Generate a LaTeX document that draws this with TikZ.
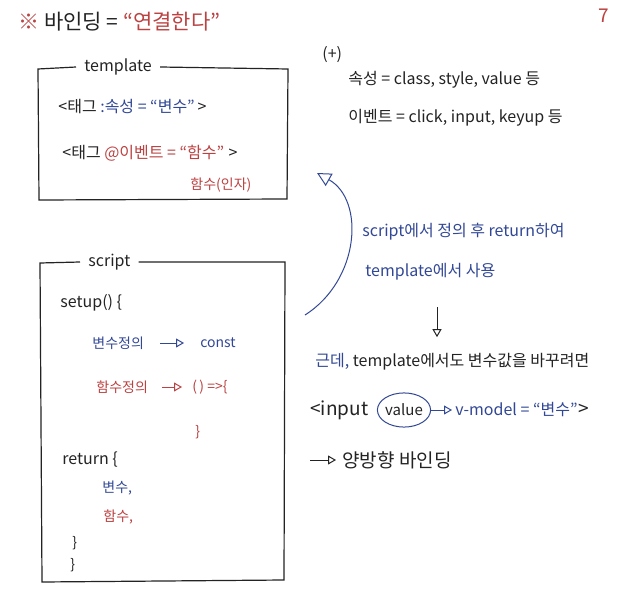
\documentclass[tikz,border=0pt]{standalone}
\usepackage{fontspec}
\newfontfamily\hand{Noto Sans CJK KR}
\usetikzlibrary{arrows.meta}
\usetikzlibrary{shapes.geometric}
\definecolor{penred}{RGB}{188,66,66}
\definecolor{penblue}{RGB}{50,72,150}
\definecolor{penblack}{RGB}{35,35,35}
\tikzset{
  pen/.style={draw=penblack, line width=0.6pt},
  txt/.style={anchor=west, inner sep=0pt, text=penblack, font=\hand\fontsize{8}{9}\selectfont},
  small/.style={font=\hand\fontsize{7}{8}\selectfont},
  big/.style={font=\hand\fontsize{9.5}{11}\selectfont},
  boxtitle/.style={inner xsep=4pt},
  hint/.style={-{Triangle[open,length=4pt,width=4.5pt]}, line width=0.5pt, shorten >=8pt, shorten <=8pt},
}
\begin{document}
\begin{tikzpicture}[x=0.5pt, y=-0.5pt]
            \useasboundingbox[fill=white] (0,0) rectangle (626,609);
            % title line
            \node[txt, font=\hand\fontsize{10.5}{12}\selectfont] (title) at (18,22) {\textcolor{penred}{※}\ 바인딩 = \textcolor{penred}{“연결한다”}};
            \node[txt, big, text=penred] (page) at (598,16) {7};
            % template box
            \node[txt, boxtitle] (tplname) at (76,67) {template};
            \draw[pen] (tplname.west) -- (38,69) -- (39,200) -- (287,199) -- (288,69) -- (tplname.east);
            \node[txt] (tag1) at (58,107) {<태그 \textcolor{penblue}{:속성 = “변수”}\,>};
            \node[txt] (tag2) at (62,153) {<태그 \textcolor{penred}{@이벤트 = “함수”}\;>};
            \node[txt, small, text=penred] (fnarg) at (190,185) {함수(인자)};
            % notes on the right
            \node[txt] (plus) at (322,55) {(+)};
            \node[txt] (attrs) at (348,80) {속성 = class, style, value 등};
            \node[txt] (events) at (348,118) {이벤트 = click, input, keyup 등};
            % script box
            \node[txt, boxtitle] (scrname) at (80,262) {script};
            \draw[pen] (scrname.west) -- (40,263) -- (42,582) -- (284,580) -- (285,262) -- (scrname.east);
            \node[txt] (setup) at (60,303) {setup() \{};
            \node[txt, small, text=penblue] (vardef) at (92,343) {변수정의};
            \node[txt, small, text=penblue] (const) at (200,343) {const};
            \draw[hint, penblue] (vardef) -- (const);
            \node[txt, small, text=penred] (fndef) at (96,387) {함수정의};
            \node[txt, small, text=penred] (arrowfn) at (192,387) {(\,) =>\{};
            \draw[hint, penred, shorten <=7pt, shorten >=5pt] (fndef) -- (arrowfn);
            \node[txt, small, text=penred] (closefn) at (195,432) {\}};
            \node[txt] (ret) at (62,460) {return \{};
            \node[txt, small, text=penblue] (retvar) at (102,488) {변수,};
            \node[txt, small, text=penred] (retfn) at (103,517) {함수,};
            \node[txt, small] (closeret) at (72,543) {\}};
            \node[txt, small] (closesetup) at (70,565) {\}};
            % from script back to template
            \coordinate (bendfrom) at (305,315);
            \coordinate (bendto) at (317,173);
            \draw[penblue, line width=0.5pt, -{Triangle[open,length=7pt,width=7pt]}] (bendfrom) .. controls (360,280) and (365,200) .. (bendto);
            \node[txt, text=penblue] (usage1) at (362,232) {script에서 정의 후 return하여};
            \node[txt, text=penblue] (usage2) at (365,272) {template에서 사용};
            \node[txt] (but) at (315,362) {\textcolor{penblue}{근데,} template에서도 변수값을 바꾸려면};
            \coordinate (downfrom) at (437,307);
            \draw[hint, penblack, shorten <=0pt, shorten >=8pt] (downfrom) -- (downfrom |- but.north);
            % v-model line
            \node[txt, big] (inputtag) at (310,410) {<input};
            \node[ellipse, draw=penblue, line width=0.5pt, inner xsep=0pt, inner ysep=3pt, text=penblack, font=\hand\fontsize{7.5}{9}\selectfont] (valuering) at (404,410) {value};
            \node[txt, text=penblue] (vmodel) at (455,410) {v-model = “변수”};
            \node[txt, big] (inputend) at (578,410) {>};
            \draw[hint, penblue, shorten <=0pt, shorten >=1.5pt] (valuering) -- (vmodel);
            \coordinate (twowayfrom) at (310,460);
            \node[txt, big] (twoway) at (342,460) {양방향 바인딩};
            \draw[hint, penblack, shorten <=0pt, shorten >=3pt] (twowayfrom) -- (twoway);
        \end{tikzpicture}
\end{document}
